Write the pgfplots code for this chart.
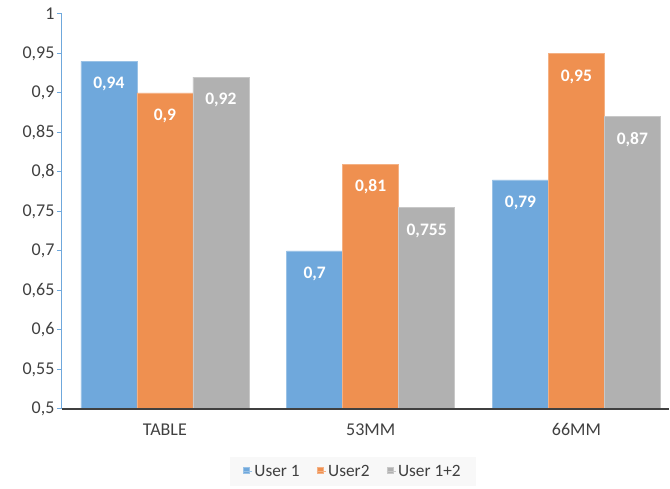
\documentclass[border=0pt]{standalone}
\usepackage{pgfplots}
\pgfplotsset{compat=1.18}
\usepackage{fontspec}
\setmainfont{Carlito}
\definecolor{cblue}{HTML}{6FA8DC}
\definecolor{corange}{HTML}{EF9050}
\definecolor{cgray}{HTML}{B1B1B1}
\definecolor{axblue}{HTML}{6FA8DC}
\definecolor{axdark}{HTML}{404040}
\definecolor{txt}{HTML}{404040}
\definecolor{legbg}{HTML}{F8F8F8}
\begin{document}
\begin{tikzpicture}
\begin{axis}[
  name=ax,
  scale only axis, width=607pt, height=395pt,
  ymin=0.5, ymax=1,
  ytick={0.5,0.55,0.6,0.65,0.7,0.75,0.8,0.85,0.9,0.95,1},
  xmin=-0.5, xmax=2.45, enlargelimits=false,
  xtick={0,1,2}, xticklabels={TABLE,53MM,66MM},
  ybar=0pt, bar width=0.272,
  axis on top,
  axis x line=bottom, axis y line=left,
  x axis line style={-, draw=axdark, line width=2.5pt},
  y axis line style={-, draw=axblue, line width=1pt},
  ytick style={draw=axblue, line width=1pt},
  tick align=outside, major tick length=5pt,
  xtick style={draw=none},
  /pgf/number format/.cd, use comma, fixed, precision=3, assume math mode=true,
  /pgfplots/.cd,
  ticklabel style={font=\fontsize{18}{21}\selectfont, text=txt},
  yticklabel style={xshift=1pt},
  xticklabel style={yshift=-6pt},
  nodes near coords,
  every node near coord/.append style={font=\bfseries\fontsize{17.5}{20}\selectfont, text=white, anchor=center, yshift=-23pt},
  legend columns=-1,
  legend style={at={(0.479,-0.158)}, anchor=center, draw=none, fill=legbg,
    font=\fontsize{17.3}{20}\selectfont, text=txt, inner xsep=13pt, inner ysep=6pt,
    /tikz/every even column/.append style={column sep=15pt}},
  legend image code/.code={\fill[#1] (0pt,-2pt) rectangle (6pt,4pt); \path (0pt,0pt) -- (9pt,0pt);},
]
\addplot[fill=cblue, draw=cblue!70!white, line width=0.6pt] coordinates {(0,0.94) (1,0.7) (2,0.79)};
\addplot[fill=corange, draw=corange!70!white, line width=0.6pt] coordinates {(0,0.9) (1,0.81) (2,0.95)};
\addplot[fill=cgray, draw=cgray!70!white, line width=0.6pt] coordinates {(0,0.92) (1,0.755) (2,0.87)};
\legend{User 1, User2, User 1+2}
\end{axis}
\path (ax.south west) ++(-62pt,-80pt) coordinate (bba);
\path (ax.north east) ++(1pt,14pt) coordinate (bbb);
\pgfresetboundingbox
\path[use as bounding box] (bba) rectangle (bbb);
\end{tikzpicture}
\end{document}
